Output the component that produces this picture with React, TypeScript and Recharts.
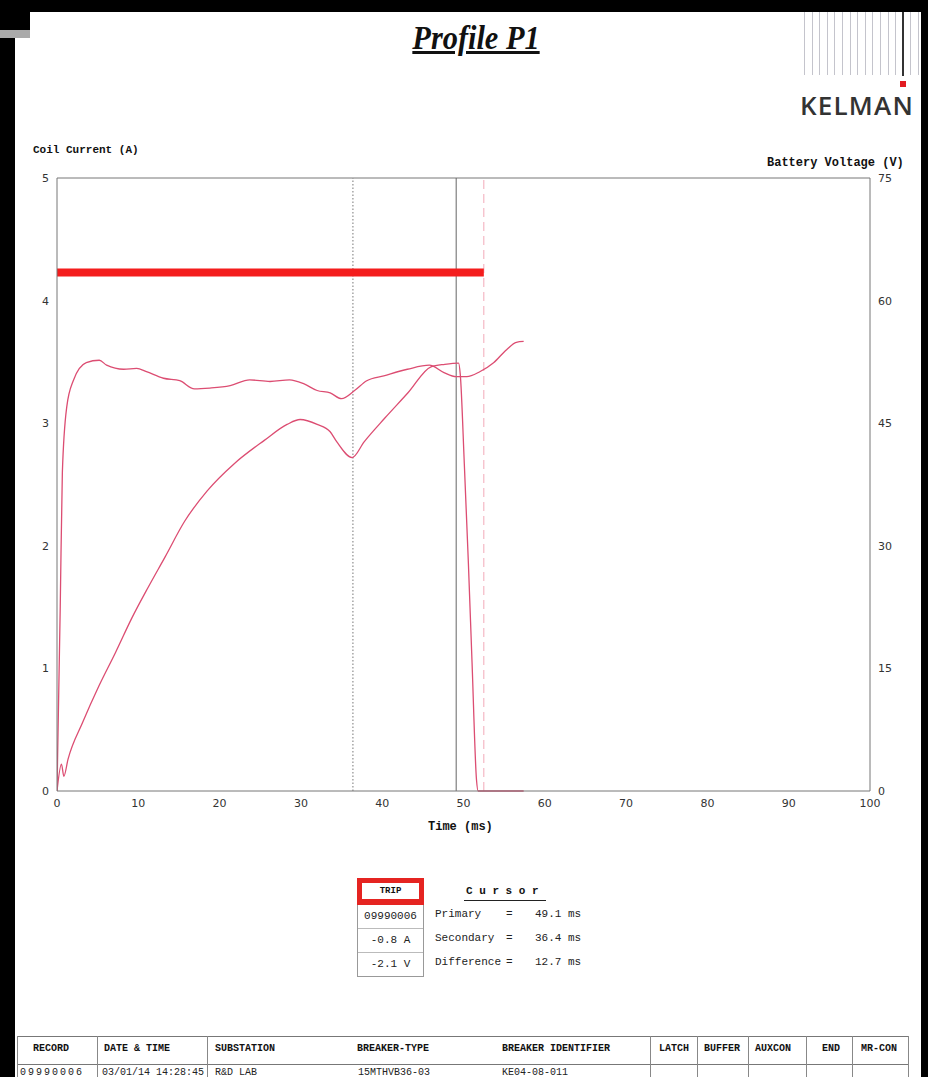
import React from "react";
import { LineChart, Line, XAxis, YAxis, ReferenceLine } from "recharts";

// coil current trace (ms, A)
const currentTime = [0, 0.55, 0.84, 1.36, 3.16, 5.18, 7.2, 9.2, 11.2, 13.3, 15.7, 18.5, 21.8, 25.5, 28.3, 29.9, 32.0, 33.6, 34.4, 36.3, 37.8, 40.3, 43.2, 46.0, 47.7, 49.4, 49.6, 50.1, 50.6, 51.05, 51.6, 51.8, 57.4];
const currentAmps = [0, 0.22, 0.12, 0.26, 0.56, 0.86, 1.13, 1.41, 1.66, 1.91, 2.2, 2.45, 2.67, 2.86, 2.99, 3.03, 2.99, 2.93, 2.85, 2.72, 2.85, 3.04, 3.25, 3.46, 3.48, 3.49, 3.4, 2.67, 1.86, 1.05, 0.09, 0, 0];

// battery voltage trace (ms, V)
const voltageTime = [0, 0.4, 0.66, 1.2, 2.0, 3.6, 5.2, 6.1, 8.2, 9.8, 11.0, 13.1, 15.1, 16.9, 18.8, 21.3, 23.7, 26.2, 28.6, 30.4, 32.0, 33.6, 35.0, 36.6, 38.1, 40.2, 43.1, 45.8, 47.6, 49.1, 50.4, 52.0, 53.7, 55.3, 56.5, 57.4];
const voltageVolts = [0, 22.6, 39, 47, 50.2, 52.4, 52.7, 52.1, 51.6, 51.7, 51.3, 50.5, 50.2, 49.2, 49.3, 49.6, 50.3, 50.1, 50.3, 49.8, 49.0, 48.7, 48.0, 49.0, 50.2, 50.8, 51.6, 52.1, 51.2, 50.7, 50.7, 51.3, 52.4, 54.0, 54.9, 55.0];

// trip command bar
const tripTime = [0, 52.5];
const tripLevel = 4.23;

const timeTicks = [0, 10, 20, 30, 40, 50, 60, 70, 80, 90, 100];
const ampTicks = [0, 1, 2, 3, 4, 5];
const voltTicks = [0, 15, 30, 45, 60, 75];

const primaryCursor = 49.1;
const secondaryCursor = 36.4;

const tripRows = ["09990006", "-0.8 A", "-2.1 V"];
const cursorRows = [
  ["Primary", "49.1 ms"],
  ["Secondary", "36.4 ms"],
  ["Difference", "12.7 ms"],
];

const tableHeaders = [
  { label: "RECORD", x: 33 },
  { label: "DATE & TIME", x: 104 },
  { label: "SUBSTATION", x: 215 },
  { label: "BREAKER-TYPE", x: 357 },
  { label: "BREAKER IDENTIFIER", x: 502 },
  { label: "LATCH", x: 659 },
  { label: "BUFFER", x: 704 },
  { label: "AUXCON", x: 755 },
  { label: "END", x: 822 },
  { label: "MR-CON", x: 861 },
];
const tableRow = [
  { label: "09990006", x: 20 },
  { label: "03/01/14 14:28:45", x: 102 },
  { label: "R&D LAB", x: 215 },
  { label: "15MTHVB36-03", x: 358 },
  { label: "KE04-08-011", x: 502 },
];
const tableCols = [17, 97, 207, 650, 697, 748, 806, 852, 908];

const currentData = currentTime.map((t, i) => ({ t, amps: currentAmps[i] }));
const voltageData = voltageTime.map((t, i) => ({ t, volts: voltageVolts[i] }));
const tripData = tripTime.map((t) => ({ t, trip: tripLevel }));

const mono = '"Liberation Mono", "DejaVu Sans Mono", monospace';
const tickStyle = { fill: "#333", fontSize: 11, fontFamily: '"DejaVu Sans", sans-serif' };
const traceColor = "#dc4d72";

const abs = (x: number, y: number, extra: React.CSSProperties = {}): React.CSSProperties => ({
  position: "absolute",
  left: x,
  top: y,
  ...extra,
});

export default function App() {
  return (
    <div style={{ position: "absolute", left: 0, top: 0, width: 928, height: 1077, background: "#fff", overflow: "hidden" }}>
      {/* scan borders */}
      <div style={abs(0, 0, { width: 928, height: 12, background: "#000" })} />
      <div style={abs(0, 0, { width: 15, height: 1077, background: "#000" })} />
      <div style={abs(0, 0, { width: 30, height: 30, background: "#000" })} />
      <div style={abs(0, 30, { width: 30, height: 8, background: "#aaa" })} />
      <div style={abs(921, 0, { width: 7, height: 1077, background: "#000" })} />

      {/* title */}
      <div
        style={abs(476, 20, {
          transform: "translateX(-50%) scaleX(0.92)",
          fontFamily: '"Liberation Serif", serif',
          fontWeight: 700,
          fontStyle: "italic",
          fontSize: 33,
          textDecoration: "underline",
          color: "#111",
          whiteSpace: "nowrap",
        })}
      >
        Profile P1
      </div>

      {/* logo */}
      {Array.from({ length: 16 }).map((_, i) => (
        <div key={i} style={abs(804 + i * 7.6, 12, { width: 1, height: 63, background: "#c4c4cc" })} />
      ))}
      <div style={abs(902, 12, { width: 2, height: 64, background: "#333" })} />
      <div style={abs(900, 81, { width: 6, height: 6, background: "#e21b22" })} />
      <div style={abs(800, 87, { fontFamily: '"Open Sans", sans-serif', fontSize: 26, fontWeight: 600, letterSpacing: 1.2, color: "#333" })}>
        KELMAN
      </div>

      {/* axis titles */}
      <div style={abs(33, 144, { fontFamily: mono, fontWeight: 700, fontSize: 11, color: "#111", whiteSpace: "pre" })}>Coil Current (A)</div>
      <div style={abs(767, 156, { fontFamily: mono, fontWeight: 700, fontSize: 12, color: "#111", whiteSpace: "pre" })}>Battery Voltage (V)</div>
      <div style={abs(428, 820, { fontFamily: mono, fontWeight: 700, fontSize: 12, color: "#111", whiteSpace: "pre" })}>Time (ms)</div>

      <div style={abs(0, 0)}>
        <LineChart width={928} height={860} margin={{ top: 178, right: 13, left: 17, bottom: 39 }}>
          <XAxis
            type="number"
            dataKey="t"
            domain={[0, 100]}
            ticks={timeTicks}
            height={30}
            tickLine={false}
            axisLine={{ stroke: "#777" }}
            tick={tickStyle}
            allowDataOverflow
          />
          <YAxis
            yAxisId="left"
            domain={[0, 5]}
            ticks={ampTicks}
            width={40}
            tickLine={false}
            axisLine={{ stroke: "#777" }}
            tick={tickStyle}
          />
          <YAxis
            yAxisId="right"
            orientation="right"
            domain={[0, 75]}
            ticks={voltTicks}
            width={45}
            tickLine={false}
            axisLine={{ stroke: "#777" }}
            tick={{ ...tickStyle, textAnchor: "start" }}
          />
          <ReferenceLine yAxisId="left" y={5} stroke="#777" />
          <ReferenceLine yAxisId="left" x={secondaryCursor} stroke="#777" strokeDasharray="1.5 2" />
          <ReferenceLine yAxisId="left" x={primaryCursor} stroke="#666" />
          <ReferenceLine yAxisId="left" x={tripTime[1]} stroke="#f2aab8" strokeDasharray="9 5" />
          <Line
            yAxisId="left"
            data={tripData}
            dataKey="trip"
            type="linear"
            stroke="#f41d1d"
            strokeWidth={8}
            strokeLinecap="butt"
            dot={false}
            isAnimationActive={false}
          />
          <Line
            yAxisId="right"
            data={voltageData}
            dataKey="volts"
            type="monotone"
            stroke={traceColor}
            strokeWidth={1.3}
            dot={false}
            isAnimationActive={false}
          />
          <Line
            yAxisId="left"
            data={currentData}
            dataKey="amps"
            type="monotone"
            stroke={traceColor}
            strokeWidth={1.3}
            dot={false}
            isAnimationActive={false}
          />
        </LineChart>
      </div>

      {/* trip box */}
      <div style={abs(357, 878, { width: 67, height: 99, border: "1px solid #999", boxSizing: "border-box" })} />
      <div style={abs(357, 878, { width: 67, height: 27, background: "#e52421" })} />
      <div
        style={abs(362, 883, {
          width: 57,
          height: 16,
          background: "#fff",
          fontFamily: mono,
          fontWeight: 700,
          fontSize: 9,
          lineHeight: "16px",
          textAlign: "center",
          color: "#111",
        })}
      >
        TRIP
      </div>
      {tripRows.map((r, i) => (
        <React.Fragment key={r}>
          <div
            style={abs(358, 905 + i * 24, {
              width: 65,
              height: 24,
              lineHeight: "22px",
              textAlign: "center",
              fontFamily: mono,
              fontSize: 11,
              color: "#222",
              whiteSpace: "pre",
            })}
          >
            {r}
          </div>
          {i > 0 && <div style={abs(358, 905 + i * 24 - 1, { width: 65, height: 1, background: "#bbb" })} />}
        </React.Fragment>
      ))}

      {/* cursor readout */}
      <div style={abs(466, 885, { fontFamily: mono, fontWeight: 700, fontSize: 11, color: "#111", whiteSpace: "pre" })}>C u r s o r</div>
      <div style={abs(464, 900, { width: 82, height: 1, background: "#222" })} />
      {cursorRows.map(([name, val], i) => (
        <React.Fragment key={name}>
          <div style={abs(435, 908 + i * 24, { fontFamily: mono, fontSize: 11, color: "#222", whiteSpace: "pre" })}>{name}</div>
          <div style={abs(506, 908 + i * 24, { fontFamily: mono, fontSize: 11, color: "#222" })}>=</div>
          <div style={abs(535, 908 + i * 24, { fontFamily: mono, fontSize: 11, color: "#222", whiteSpace: "pre" })}>{val}</div>
        </React.Fragment>
      ))}

      {/* record table */}
      <div style={abs(17, 1036, { width: 891, height: 1, background: "#777" })} />
      <div style={abs(17, 1064, { width: 891, height: 1, background: "#777" })} />
      {tableCols.map((x) => (
        <div key={x} style={abs(x, 1036, { width: 1, height: 41, background: "#888" })} />
      ))}
      {tableHeaders.map((h) => (
        <div key={h.label} style={abs(h.x, 1043, { fontFamily: mono, fontWeight: 700, fontSize: 10, color: "#111", whiteSpace: "pre" })}>
          {h.label}
        </div>
      ))}
      {tableRow.map((c, i) => (
        <div
          key={c.label}
          style={abs(c.x, 1067, {
            fontFamily: mono,
            fontSize: 10,
            letterSpacing: i === 0 ? 2 : 0,
            color: "#222",
            whiteSpace: "pre",
          })}
        >
          {c.label}
        </div>
      ))}
    </div>
  );
}
